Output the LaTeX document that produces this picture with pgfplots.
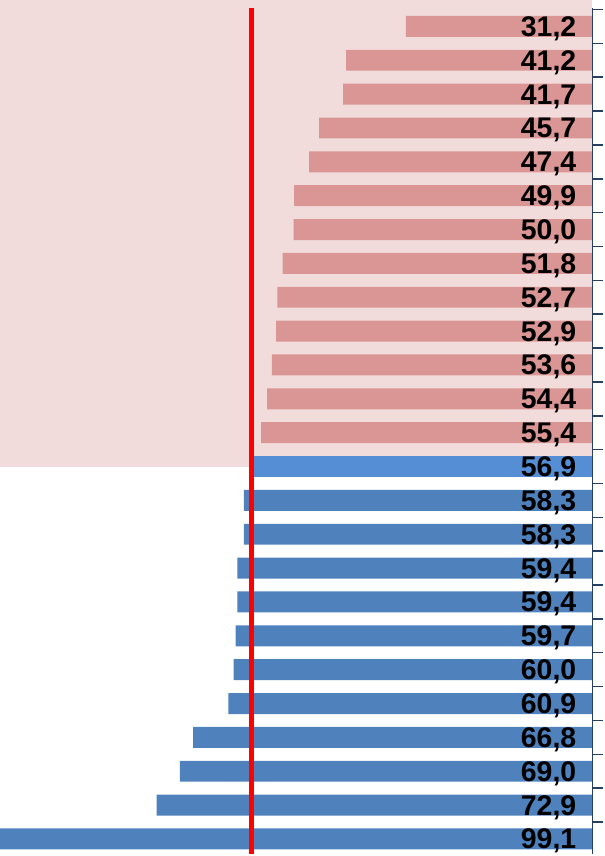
\documentclass[border=0pt]{standalone}
\usepackage{pgfplots}
\pgfplotsset{compat=1.18}
\usepackage{pgfplotstable}
\usepackage{fontspec}
\setmainfont{Liberation Sans}
\definecolor{rosa}{HTML}{D99694}
\definecolor{fondo}{HTML}{F2DCDB}
\definecolor{azul}{HTML}{4F81BD}
\definecolor{azulclaro}{HTML}{558ED5}
\definecolor{ejes}{HTML}{254061}

% below the mean
\pgfplotstableread{
y x
0 31.2
1 41.2
2 41.7
3 45.7
4 47.4
5 49.9
6 50.0
7 51.8
8 52.7
9 52.9
10 53.6
11 54.4
12 55.4
}\rosas

\pgfplotstableread{
y x
13 56.9
}\destacado

\pgfplotstableread{
y x
14 58.3
15 58.3
16 59.4
17 59.4
18 59.7
19 60.0
20 60.9
21 66.8
22 69.0
23 72.9
24 99.1
}\azules

\pgfplotstableread{
y v
0 31.2
1 41.2
2 41.7
3 45.7
4 47.4
5 49.9
6 50.0
7 51.8
8 52.7
9 52.9
10 53.6
11 54.4
12 55.4
13 56.9
14 58.3
15 58.3
16 59.4
17 59.4
18 59.7
19 60.0
20 60.9
21 66.8
22 69.0
23 72.9
24 99.1
}\etiquetas

\begin{document}
\begin{tikzpicture}
\begin{axis}[
  scale only axis,
  width=594pt, height=848pt,
  x dir=reverse, y dir=reverse,
  xmin=0, xmax=99.1,
  ymin=-0.55, ymax=24.43,
  hide axis,
  clip=false,
  /pgf/number format/.cd, fixed, fixed zerofill, precision=1, use comma, assume math mode=true,
]
  \fill[fondo] (axis cs:99.1,-0.78) rectangle (axis cs:0,13);

  \addplot[xbar, bar width=21pt, bar shift=0pt, fill=rosa, draw=none] table[x=x, y=y] {\rosas};
  \addplot[xbar, bar width=21pt, bar shift=0pt, fill=azulclaro, draw=none] table[x=x, y=y] {\destacado};
  \addplot[xbar, bar width=21pt, bar shift=0pt, fill=azul, draw=none] table[x=x, y=y] {\azules};

  \draw[red, line width=5pt] (axis cs:57,-0.55) -- (axis cs:57,24.43);

  \addplot[draw=none, nodes near coords, point meta=explicit,
    nodes near coords style={anchor=base east, inner sep=0pt, xshift=-16pt, yshift=-10pt,
      font=\fontsize{28.5}{30}\selectfont\bfseries, text=black}]
    table[x expr=0, y=y, meta=v] {\etiquetas};

  \draw[ejes, line width=1.5pt] (axis cs:0,-0.55) -- (axis cs:0,24.43);
  \pgfplotsinvokeforeach{-0.5,0.5,...,23.5}{
    \draw[ejes, line width=1.5pt] (axis cs:0,#1) -- ++(11pt,0pt);
  }
\end{axis}
\end{tikzpicture}
\end{document}
